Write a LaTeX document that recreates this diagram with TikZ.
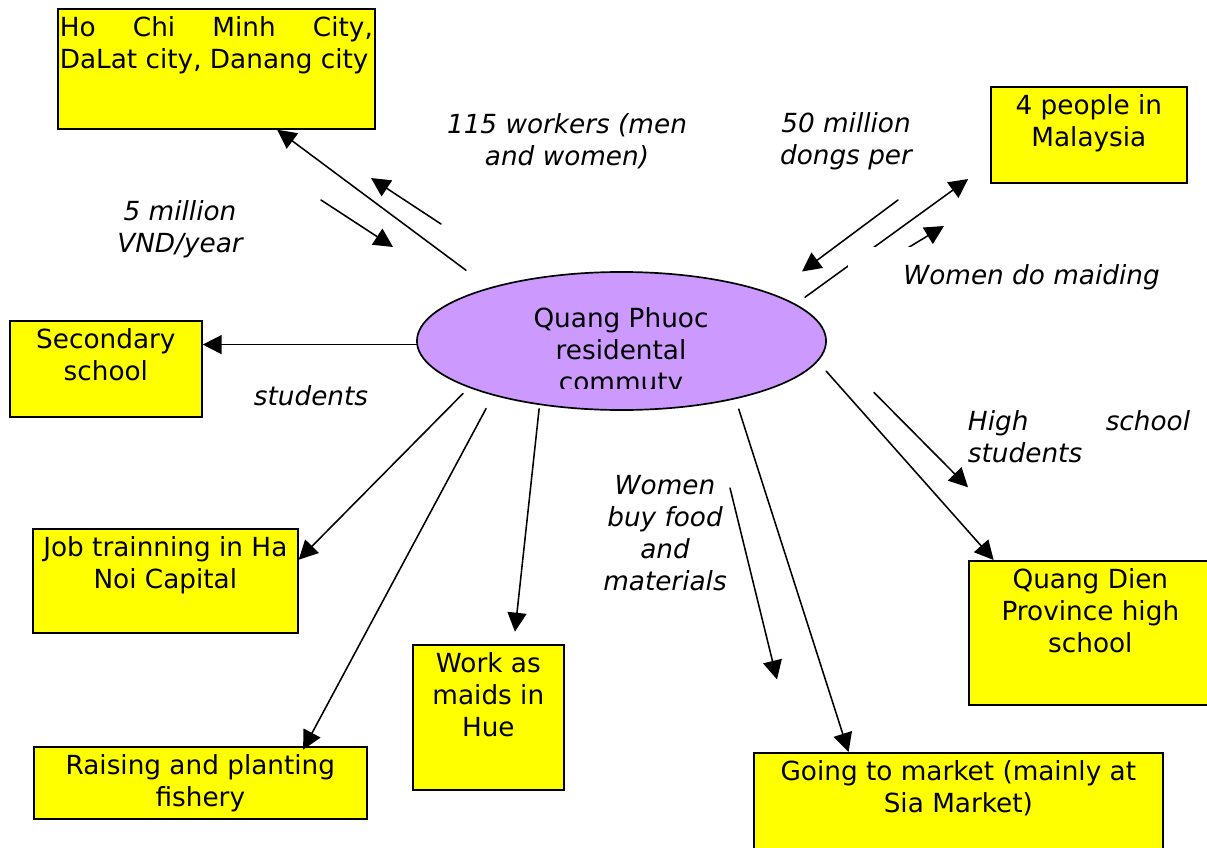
\documentclass[tikz,border=0pt]{standalone}
\usepackage{fontspec}
\setmainfont{DejaVu Sans}
\usetikzlibrary{arrows.meta,shapes.geometric}
\definecolor{hubpurple}{RGB}{204,153,255}
\definecolor{boxyellow}{RGB}{255,255,0}
\newdimen\pxu \pxu=0.025cm
\newcommand{\boxtxt}[3]{\parbox[t][#2\pxu][t]{#1\pxu}{\vspace*{8\pxu}\centering #3}}
\newcommand{\boxjust}[3]{\parbox[t][#2\pxu][t]{#1\pxu}{\vspace*{8\pxu}\leftskip=2\pxu\rightskip=2\pxu #3}}
\tikzset{
	ybox/.style={draw,fill=boxyellow,line width=1.2pt,line join=miter,inner sep=0pt,anchor=north west},
	hub/.style={ellipse,draw,fill=hubpurple,line width=1.2pt,inner sep=0pt,minimum width=10.225cm,minimum height=3.45cm},
	lbl/.style={font=\fontsize{18.7}{22.8}\selectfont\itshape,align=center,inner sep=0pt}
}
\begin{document}
\begin{tikzpicture}[
	x=0.025cm,
	y=-0.025cm,
	>={Triangle[length=13.5pt,width=13.5pt]},
	line width=1.1pt,
	line cap=round,
	line join=round,
	font=\fontsize{18.7}{22.8}\selectfont
	]
	\useasboundingbox (0,0) rectangle (1207,847);
	\node[ybox] (hcm) at (57,8) {\boxjust{317}{120}{Ho Chi Minh City,\linebreak DaLat city, Danang city}};
	\node[ybox] (mal) at (990,86) {\boxtxt{196}{96}{4 people in\\Malaysia}};
	\node[ybox] (sec) at (9,320) {\boxtxt{192}{96}{Secondary\\school}};
	\node[ybox] (job) at (32,528) {\boxtxt{265}{104}{Job trainning in Ha\\Noi Capital}};
	\node[ybox] (hue) at (412,644) {\boxtxt{151}{145}{Work as\\maids in\\Hue}};
	\node[ybox] (fish) at (33,746) {\boxtxt{333}{72}{Raising and planting\\fishery}};
	\node[ybox] (qd) at (968,560) {\boxtxt{243}{144}{Quang Dien\\Province high\\school}};
	\node[ybox] (mkt) at (753,752) {\boxtxt{409}{120}{Going to market (mainly at\\Sia Market)}};
	\node[hub] (qp) at (621.5,341) {};
	\begin{scope}
		\clip (400,260) rectangle (840,388);
		\node[align=center,inner sep=0pt] (qptext) at (621,352) {Quang Phuoc\\residental\\commuty};
	\end{scope}
	\node[lbl] (l115) at (567,141) {115 workers (men\\and women)};
	\node[lbl] (l50) at (846,141) {50 million\\dongs per};
	\node[lbl] (l5) at (180,229) {5 million\\VND/year};
	\node[lbl] (lstud) at (311,396) {students};
	\node[lbl,text width=5.55cm,align=justify] (lhigh) at (1079,437) {High school\linebreak students};
	\node[lbl] (lbuy) at (665,533) {Women\\buy food\\and\\materials};
	\coordinate (in1s) at (441,224);
	\coordinate (in1e) at (371,178);
	\coordinate (out1s) at (321,200);
	\coordinate (out1e) at (393,247);
	\coordinate (ret2s) at (898,200);
	\coordinate (ret2e) at (802,271.5);
	\coordinate (out2s) at (901,252);
	\coordinate (out2e) at (944,226);
	\coordinate (buy2s) at (730,488);
	\coordinate (buy2e) at (777,679.5);
	\coordinate (high2s) at (874,392.5);
	\coordinate (high2e) at (968,487.3);
	\begin{scope}[->]
		\draw[shorten <=20.6pt] (qp.158.3) -- (hcm.315);
		\draw[shorten <=8.2pt,shorten >=19.2pt] (qp.12.7) -- (mal.196.2);
		\draw (qp.181) -- (qp.181 -| sec.east);
		\draw[shorten <=5.8pt] (qp.197.2) -- (job.9.8);
		\draw[shorten <=10.5pt,shorten >=-3pt] (qp.203.3) -- ([xshift=6.8cm]fish.north west);
		\draw[shorten <=2.7pt,shorten >=8.8pt] (qp.218.7) -- (hue.71);
		\draw[shorten <=7.5pt] (qp.333.4) -- (mkt.151.5);
		\draw[shorten <=9pt] (qp.354.3) -- (qd.143.6);
		\draw (in1s) -- (in1e);
		\draw (out1s) -- (out1e);
		\draw (ret2s) -- (ret2e);
		\draw (out2s) -- (out2e);
		\draw (buy2s) -- (buy2e);
		\draw (high2s) -- (high2e);
	\end{scope}
	\node[lbl,fill=white,minimum width=9.15cm,minimum height=1.5cm] (lmaid) at (1031.5,277) {Women do maiding};
\end{tikzpicture}
\end{document}
